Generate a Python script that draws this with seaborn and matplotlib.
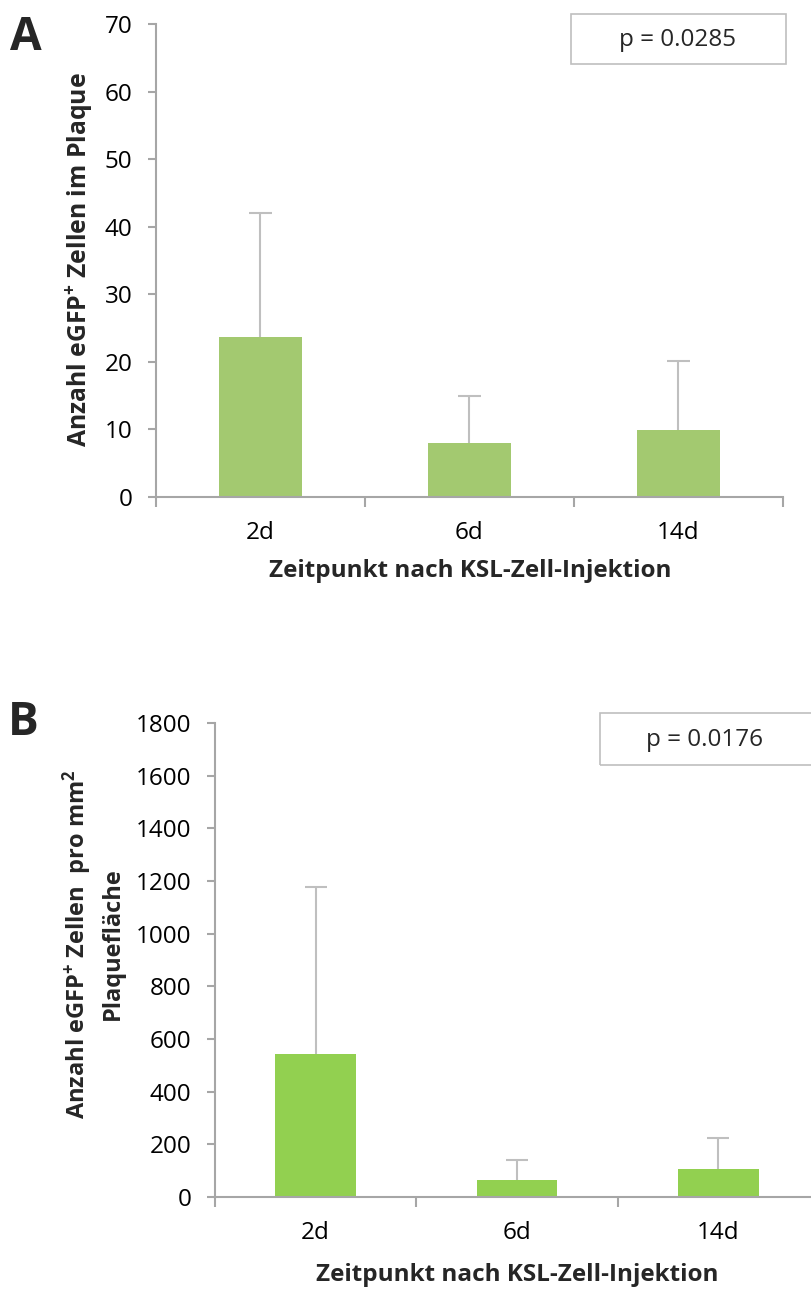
import matplotlib
matplotlib.use("Agg")
import matplotlib.pyplot as plt
import seaborn as sns
import numpy as np
from matplotlib.patches import Rectangle

# ---- data ----
categories = ["2d", "6d", "14d"]
a_values = [23.7, 8.0, 9.9]
a_errors = [18.3, 6.9, 10.2]
b_values = [542, 65, 106]
b_errors = [634, 74, 118]
a_pvalue = "p = 0.0285"
b_pvalue = "p = 0.0176"
a_ylabel = "Anzahl eGFP$^{+}$ Zellen im Plaque"
b_ylabel = "Anzahl eGFP$^{+}$ Zellen  pro mm$^{2}$\nPlaquefläche"
xlabel = "Zeitpunkt nach KSL-Zell-Injektion"

sns.set_theme(style="white")
plt.rcParams["font.family"] = ["Open Sans", "DejaVu Sans"]
plt.rcParams["mathtext.default"] = "regular"

W, H = 812, 1289
fig = plt.figure(figsize=(W / 100, H / 100), dpi=100)

AX_COL = "#A6A6A6"
ERR_COL = "#BFBFBF"
TICK_FS = 17.5
LABEL_FS = 17


def fx(px):
    return px / W


def fy(py):
    return 1 - py / H


def panel(ax, values, errors, color, ymax, ystep):
    sns.barplot(x=categories, y=values, color=color, width=0.4,
                saturation=1, ax=ax, zorder=2, linewidth=0)
    xs = np.arange(len(categories))
    tops = np.array(values) + np.array(errors)
    ax.vlines(xs, values, tops, color=ERR_COL, lw=1.5, zorder=1)
    ax.hlines(tops, xs - 0.055, xs + 0.055, color=ERR_COL, lw=1.5, zorder=1)
    ax.set_xlim(-0.5, len(categories) - 0.5)
    ax.set_ylim(0, ymax)
    ax.set_yticks(np.arange(0, ymax + 1, ystep))
    ax.set_xticks(np.arange(-0.5, len(categories), 1.0))
    ax.set_xticklabels([])
    ax.set_xticks(xs, minor=True)
    ax.set_xticklabels(categories, minor=True)
    ax.tick_params(axis="x", which="major", length=7, width=1.5,
                   color=AX_COL, direction="out", bottom=True)
    ax.tick_params(axis="x", which="minor", length=0, pad=17,
                   labelsize=TICK_FS, labelcolor="black")
    ax.tick_params(axis="y", length=6, width=1.5, color=AX_COL,
                   direction="out", left=True, pad=11, labelsize=TICK_FS,
                   labelcolor="black")
    for s in ["top", "right"]:
        ax.spines[s].set_visible(False)
    for s in ["left", "bottom"]:
        ax.spines[s].set_color(AX_COL)
        ax.spines[s].set_linewidth(1.5)
    ax.set_xlabel("")
    ax.set_ylabel("")
    ax.grid(False)
    ax.patch.set_alpha(0)


# Panel A
axA = fig.add_axes([fx(156), fy(497), fx(783 - 156), (497 - 24) / H])
panel(axA, a_values, a_errors, "#A3C970", 70, 10)
fig.text(fx(80), fy(260), a_ylabel, rotation=90, ha="center", va="center",
         fontsize=17.8, fontweight="bold")
fig.text(fx(470), fy(559), xlabel, ha="center", va="top",
         fontsize=LABEL_FS + 0.5, fontweight="bold")
fig.patches.append(Rectangle((fx(571), fy(64)), fx(786 - 571), 50 / H,
                             transform=fig.transFigure, fill=False,
                             edgecolor=ERR_COL, lw=1.2))
fig.text(fx(678), fy(40), a_pvalue, ha="center", va="center", fontsize=TICK_FS)
fig.text(fx(10), fy(50), "A", ha="left", va="baseline", fontsize=33,
         fontweight="bold")

# Panel B
axB = fig.add_axes([fx(215), fy(1197), fx(819 - 215), (1197 - 723) / H])
panel(axB, b_values, b_errors, "#92D050", 1800, 200)
fig.text(fx(93), fy(944), b_ylabel, rotation=90, ha="center", va="center",
         fontsize=LABEL_FS, fontweight="bold", linespacing=1.38,
         multialignment="center")
fig.text(fx(517), fy(1287), xlabel, ha="center", va="bottom",
         fontsize=LABEL_FS + 0.5, fontweight="bold")
fig.patches.append(Rectangle((fx(600), fy(765)), fx(216), 52 / H,
                             transform=fig.transFigure, fill=False,
                             edgecolor=ERR_COL, lw=1.2))
fig.text(fx(705), fy(740), b_pvalue, ha="center", va="center", fontsize=TICK_FS)
fig.text(fx(8), fy(735), "B", ha="left", va="baseline", fontsize=33,
         fontweight="bold")

fig.savefig("out.png", dpi=100)
